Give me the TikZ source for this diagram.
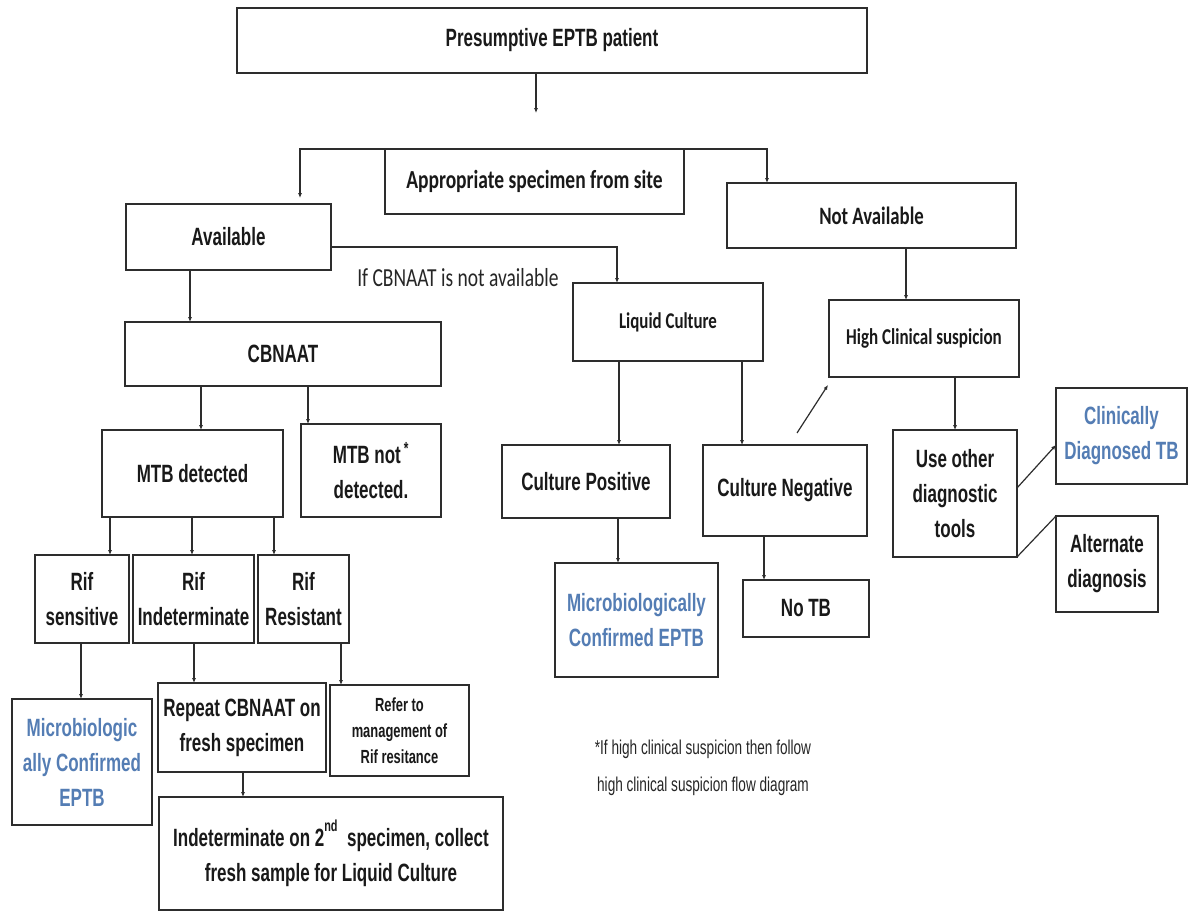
\documentclass[tikz,border=0pt]{standalone}
\usepackage{fontspec}
\usetikzlibrary{arrows.meta}
\newfontfamily\narfnt{Liberation Sans}[FakeStretch=0.68]
\newfontfamily\calfnt{Carlito}[FakeStretch=0.75]
\definecolor{bluetxt}{RGB}{84,125,180}
\definecolor{edge}{RGB}{45,45,45}
\newcommand\mybox[7][]{\node[box,#1,minimum width={(#5-#3)*0.75pt},minimum height={(#6-#4)*0.75pt}] (#2) at ({(#3+#5)/2},{(#4+#6)/2}) {#7};}
\tikzset{
  box/.style={draw=edge, line width=1.6pt, inner sep=0pt, outer sep=0pt, align=center, text=black!90, font=\narfnt\bfseries\fontsize{18.75pt}{26.25pt}\selectfont},
  calbox/.style={font=\calfnt\bfseries\fontsize{#1}{26pt}\selectfont},
  bluebox/.style={text=bluetxt},
  smallbox/.style={font=\narfnt\bfseries\fontsize{14.25pt}{19.5pt}\selectfont},
  arr/.style={draw=edge, line width=0.9pt, -{Latex[length=3.6pt,width=3pt]}},
  ln/.style={draw=edge, line width=0.9pt},
  note/.style={inner sep=0pt, align=center, text=black!85},
}
\begin{document}
\begin{tikzpicture}[x=0.75pt,y=-0.75pt]
\path[use as bounding box, fill=white] (0,0) rectangle (1190,912);

% boxes
\mybox{pres}{237}{8}{867}{73}{Presumptive EPTB patient}
\mybox[calbox=19.5pt]{spec}{385}{149}{684}{214}{Appropriate specimen from site}
\mybox{avail}{126}{204}{331}{270}{Available}
\mybox[calbox=18.75pt]{na}{727}{183}{1016}{248}{Not Available}
\mybox[calbox=16.9pt]{lc}{573}{283}{763}{361}{Liquid Culture}
\mybox[calbox=17pt]{hcs}{829}{300}{1019}{377}{High Clinical suspicion}
\mybox{cb}{125}{322}{441}{386}{CBNAAT}
\mybox{mtbd}{102}{430}{283}{517}{MTB detected}
\mybox{mtbn}{301}{424}{441}{517}{MTB not\textsuperscript{\,*}\\detected.}
\mybox{cpos}{502}{445}{670}{518}{Culture Positive}
\mybox{cneg}{703}{445}{867}{536}{Culture Negative}
\mybox{use}{893}{430}{1017}{557}{Use other\\diagnostic\\tools}
\mybox[bluebox]{clin}{1056}{388}{1187}{484}{Clinically\\Diagnosed TB}
\mybox{alt}{1056}{516}{1158}{612}{Alternate\\diagnosis}
\mybox{rifs}{35}{555}{129}{643}{Rif\\sensitive}
\mybox{rifi}{133}{555}{254}{643}{Rif\\Indeterminate}
\mybox{rifr}{258}{555}{349}{643}{Rif\\Resistant}
\mybox[bluebox]{mcone}{12}{699}{152}{825}{Microbiologic\\ally Confirmed\\EPTB}
\mybox{rep}{158}{683}{326}{772}{Repeat CBNAAT on\\fresh specimen}
\mybox[smallbox]{ref}{330}{685}{469}{776}{Refer to\\management of\\Rif resitance}
\mybox{ind}{159}{797}{503}{910}{Indeterminate on 2\raisebox{1.1ex}{\fontsize{12pt}{12pt}\selectfont nd}\ \ specimen, collect\\fresh sample for Liquid Culture}
\mybox[bluebox]{mctwo}{555}{563}{718}{677}{Microbiologically\\Confirmed EPTB}
\mybox{notb}{743}{580}{869}{637}{No TB}

% free texts
\node[note, font=\calfnt\fontsize{19.5pt}{24pt}\selectfont] (ifcb) at (458,278) {If CBNAAT is not available};
\node[note, font=\narfnt\fontsize{15pt}{27.75pt}\selectfont] (foot) at (703,768) {*If high clinical suspicion then follow\\high clinical suspicion flow diagram};

% connector end points
\coordinate (p1) at (536,113);
\coordinate (a1) at (300,198);
\coordinate (cn1) at (797,433);
\coordinate (hc1) at (828,385);

% connectors
\draw[arr] (pres.south -| p1) -- (p1);
\draw[arr] (spec.north west) -- (spec.north west -| a1) -- (a1);
\draw[arr] (spec.north east) -| (na.north -| 767,0);
\draw[arr] (avail.east |- 0,247) -| (lc.north -| 617,0);
\draw[arr] (na.south -| 906,0) -- (hcs.north -| 906,0);
\draw[arr] (avail.south -| 190,0) -- (cb.north -| 190,0);
\draw[arr] (cb.south -| 201,0) -- (mtbd.north -| 201,0);
\draw[arr] (cb.south -| 308,0) -- (mtbn.north -| 308,0);
\draw[arr] (mtbd.south -| 110,0) -- (rifs.north -| 110,0);
\draw[arr] (mtbd.south -| 192,0) -- (rifi.north -| 192,0);
\draw[arr] (mtbd.south -| 274,0) -- (rifr.north -| 274,0);
\draw[arr] (rifs.south -| 81,0) -- (mcone.north -| 81,0);
\draw[arr] (rifi.south -| 194,0) -- (rep.north -| 194,0);
\draw[arr] (rifr.south -| 341,0) -- (ref.north -| 341,0);
\draw[arr] (rep.south -| 243,0) -- (ind.north -| 243,0);
\draw[arr] (lc.south -| 619,0) -- (cpos.north -| 619,0);
\draw[arr] (lc.south -| 742,0) -- (cneg.north -| 742,0);
\draw[arr] (cpos.south -| 618,0) -- (mctwo.north -| 618,0);
\draw[arr] (cneg.south -| 764,0) -- (notb.north -| 764,0);
\draw[arr] (cn1) -- (hc1);
\draw[arr] (hcs.south -| 955,0) -- (use.north -| 955,0);
\draw[arr] (use.east |- 0,488) -- (clin.west |- 0,445);
\draw[ln] (use.south east) -- (alt.north west);
\end{tikzpicture}
\end{document}
